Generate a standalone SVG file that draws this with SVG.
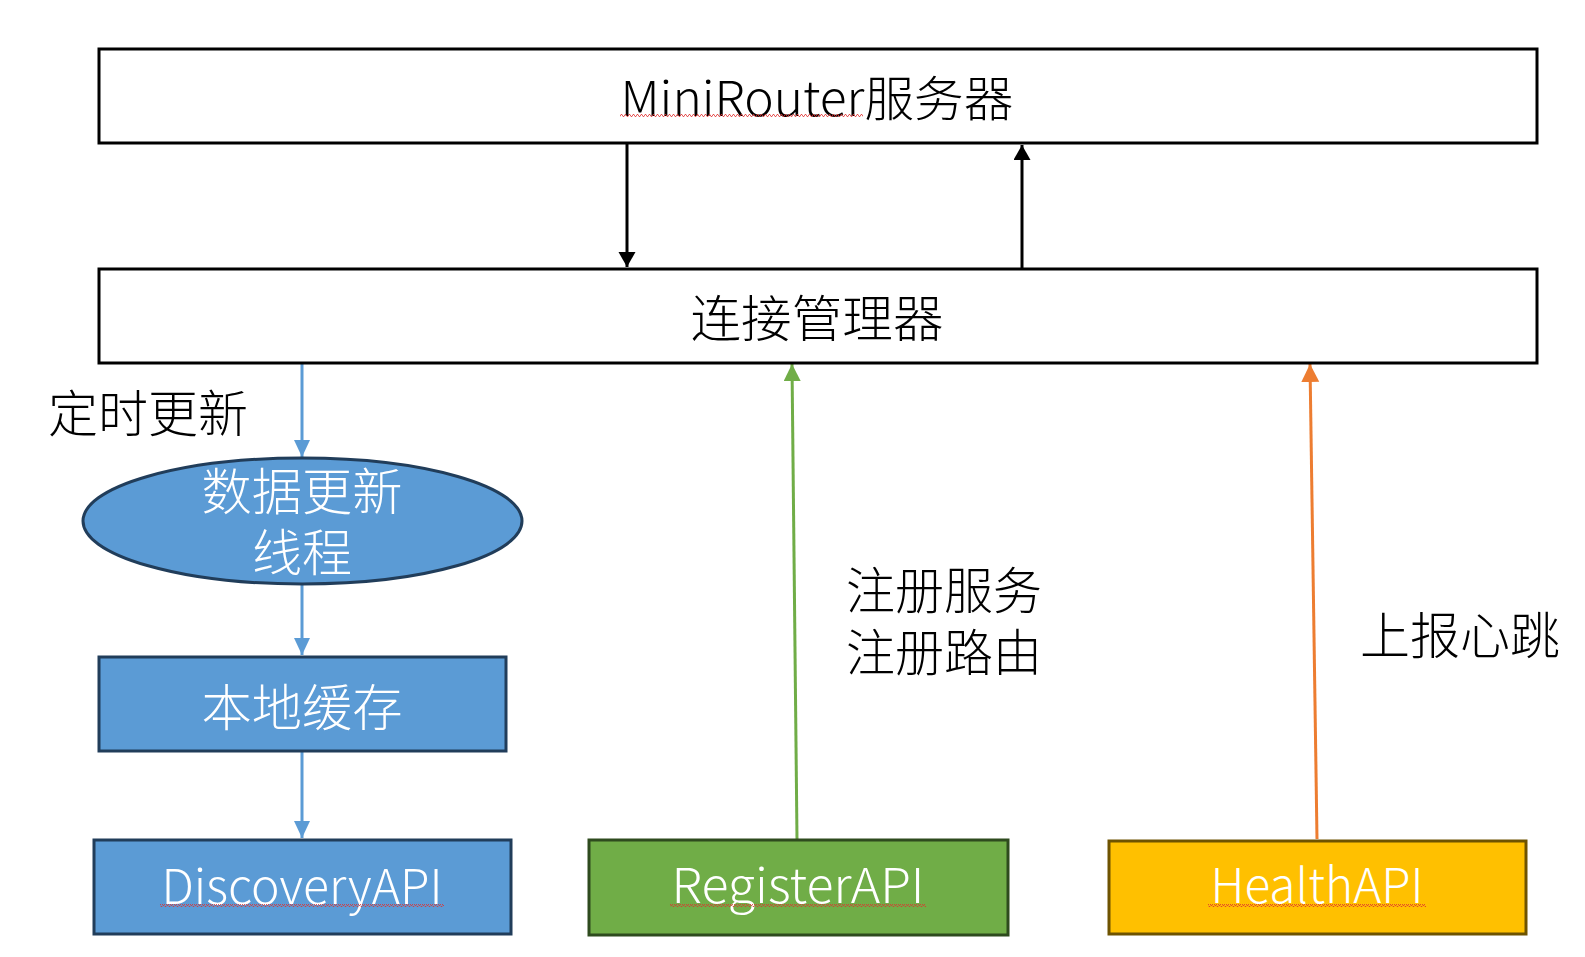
<svg xmlns="http://www.w3.org/2000/svg" width="1585" height="957" viewBox="0 0 1585 957">
<style>
.t{font-family:"Microsoft YaHei","Noto Sans CJK SC","Noto Sans",sans-serif;font-weight:300;text-anchor:middle}
.blk{fill:#000}
.wht{fill:#fff}
.frame{fill:#fff;stroke:#000;stroke-width:3}
.blue{fill:#5B9BD5;stroke:#213D5A;stroke-width:3}
.green{fill:#70AD47;stroke:#2E4B1E;stroke-width:3}
.gold{fill:#FFC000;stroke:#6E5300;stroke-width:3}
.sq{fill:url(#sq)}
</style>
<defs>
<marker id="ak" markerUnits="userSpaceOnUse" markerWidth="17" markerHeight="18" refX="15" refY="8.5" orient="auto"><path d="M0,0 L15,8.5 L0,17 Z" fill="#000"/></marker>
<marker id="ab" markerUnits="userSpaceOnUse" markerWidth="18" markerHeight="17" refX="17" refY="8" orient="auto"><path d="M0,0 L17,8 L0,16 Z" fill="#5B9BD5"/></marker>
<marker id="ag" markerUnits="userSpaceOnUse" markerWidth="18" markerHeight="18" refX="17" refY="8.5" orient="auto"><path d="M0,0 L17,8.5 L0,17 Z" fill="#70AD47"/></marker>
<marker id="ao" markerUnits="userSpaceOnUse" markerWidth="19" markerHeight="19" refX="18" refY="9" orient="auto"><path d="M0,0 L18,9 L0,18 Z" fill="#ED7D31"/></marker>
<pattern id="sq" width="4" height="3" patternUnits="userSpaceOnUse"><path d="M0,2.5 L1,0.5 L2,0.5 L3,2.5 L4,2.5" stroke="#E03030" stroke-width="0.8" fill="none"/></pattern>
</defs>

<g id="connectors" fill="none">
<line x1="627" y1="143" x2="627" y2="267" stroke="#000" stroke-width="3" marker-end="url(#ak)"/>
<line x1="1022" y1="269" x2="1022" y2="145" stroke="#000" stroke-width="3" marker-end="url(#ak)"/>
<line x1="302" y1="363" x2="302" y2="457" stroke="#5B9BD5" stroke-width="3" marker-end="url(#ab)"/>
<line x1="302" y1="584" x2="302" y2="655" stroke="#5B9BD5" stroke-width="3" marker-end="url(#ab)"/>
<line x1="302" y1="751" x2="302" y2="838" stroke="#5B9BD5" stroke-width="3" marker-end="url(#ab)"/>
<line x1="797" y1="839" x2="792" y2="364" stroke="#70AD47" stroke-width="3" marker-end="url(#ag)"/>
<line x1="1317" y1="839" x2="1310" y2="364" stroke="#ED7D31" stroke-width="3" marker-end="url(#ao)"/>
</g>

<g id="label-timer"><text class="t blk" x="148" y="432" font-size="50" textLength="200" lengthAdjust="spacingAndGlyphs">定时更新</text></g>
<g id="label-register"><text class="t blk" x="944" y="609" font-size="50" textLength="196" lengthAdjust="spacingAndGlyphs">注册服务</text><text class="t blk" x="944" y="671" font-size="50" textLength="196" lengthAdjust="spacingAndGlyphs">注册路由</text></g>
<g id="label-health"><text class="t blk" x="1460" y="654" font-size="50" textLength="200" lengthAdjust="spacingAndGlyphs">上报心跳</text></g>

<g id="minirouter">
<rect class="frame" x="99" y="49" width="1438" height="94"/>
<text class="t blk" x="817" y="116" font-size="48" textLength="393" lengthAdjust="spacingAndGlyphs">MiniRouter服务器</text>
<rect class="sq" x="620" y="114" width="243" height="3"/>
</g>

<g id="connmgr">
<rect class="frame" x="99" y="269" width="1438" height="94"/>
<text class="t blk" x="817" y="337" font-size="50" textLength="253" lengthAdjust="spacingAndGlyphs">连接管理器</text>
</g>

<g id="update-thread">
<ellipse class="blue" cx="302.5" cy="521" rx="219.5" ry="63"/>
<text class="t wht" x="302" y="510" font-size="50" textLength="201" lengthAdjust="spacingAndGlyphs">数据更新</text>
<text class="t wht" x="302" y="571" font-size="50" textLength="100" lengthAdjust="spacingAndGlyphs">线程</text>
</g>

<g id="local-cache">
<rect class="blue" x="99" y="657" width="407" height="94"/>
<text class="t wht" x="302" y="726" font-size="50" textLength="201" lengthAdjust="spacingAndGlyphs">本地缓存</text>
</g>

<g id="discovery">
<rect class="blue" x="94" y="840" width="417" height="94"/>
<text class="t wht" x="302" y="904" font-size="48" textLength="281" lengthAdjust="spacingAndGlyphs">DiscoveryAPI</text>
<rect class="sq" x="160" y="904" width="284" height="3"/>
</g>

<g id="register">
<rect class="green" x="589" y="840" width="419" height="95"/>
<text class="t wht" x="798" y="903" font-size="48" textLength="253" lengthAdjust="spacingAndGlyphs">RegisterAPI</text>
<rect class="sq" x="670" y="904" width="256" height="3"/>
</g>

<g id="health">
<rect class="gold" x="1109" y="841" width="417" height="93"/>
<text class="t wht" x="1317" y="903" font-size="48" textLength="213" lengthAdjust="spacingAndGlyphs">HealthAPI</text>
<rect class="sq" x="1208" y="904" width="218" height="3"/>
</g>
</svg>
